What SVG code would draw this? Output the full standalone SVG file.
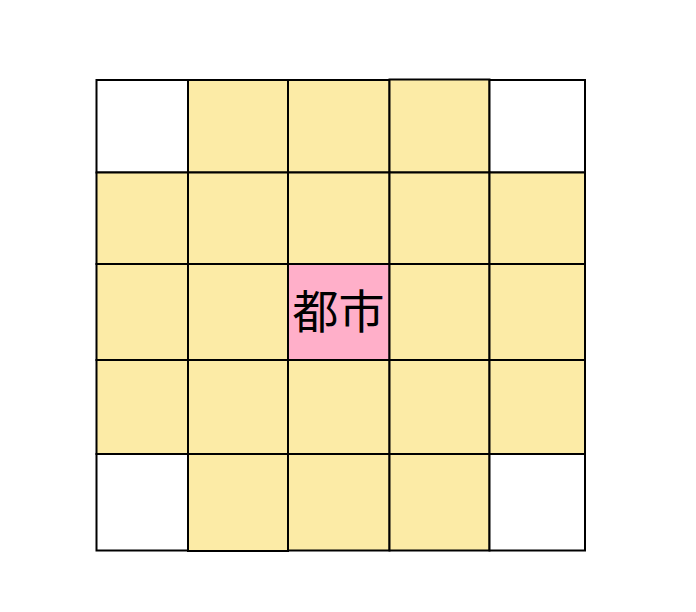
<svg xmlns="http://www.w3.org/2000/svg" width="696" height="612" viewBox="0 0 696 612">
<style>
rect{stroke:#000;stroke-width:2}
.w{fill:#fff}
.y{fill:#fcebA6}
.p{fill:#ffafc9}
text{font-family:"Noto Sans CJK JP","Noto Sans CJK SC",sans-serif;font-size:46px;fill:#000;text-anchor:middle}
</style>
<rect width="696" height="612" fill="#fff" style="stroke:none"/>
<g id="r0c0"><rect class="w" x="96.5" y="80" width="91.5" height="92.5"/></g>
<g id="r0c1"><rect class="y" x="188" y="80" width="100" height="92.5"/></g>
<g id="r0c2"><rect class="y" x="288" y="80" width="101.5" height="92.5"/></g>
<g id="r0c3"><rect class="y" x="389.5" y="79.5" width="100" height="93"/></g>
<g id="r0c4"><rect class="w" x="489.5" y="80" width="95.5" height="92.5"/></g>
<g id="r1c0"><rect class="y" x="96.5" y="172.5" width="91.5" height="91.5"/></g>
<g id="r1c1"><rect class="y" x="188" y="172.5" width="100" height="91.5"/></g>
<g id="r1c2"><rect class="y" x="288" y="172.5" width="101.5" height="91.5"/></g>
<g id="r1c3"><rect class="y" x="389.5" y="172.5" width="100" height="91.5"/></g>
<g id="r1c4"><rect class="y" x="489.5" y="172.5" width="95.5" height="91.5"/></g>
<g id="r2c0"><rect class="y" x="96.5" y="264" width="91.5" height="96"/></g>
<g id="r2c1"><rect class="y" x="188" y="264" width="100" height="96"/></g>
<g id="r2c2"><rect class="p" x="288" y="264" width="101.5" height="96"/><text x="338.5" y="328">都市</text></g>
<g id="r2c3"><rect class="y" x="389.5" y="264" width="100" height="96"/></g>
<g id="r2c4"><rect class="y" x="489.5" y="264" width="95.5" height="96"/></g>
<g id="r3c0"><rect class="y" x="96.5" y="360" width="91.5" height="94"/></g>
<g id="r3c1"><rect class="y" x="188" y="360" width="100" height="94"/></g>
<g id="r3c2"><rect class="y" x="288" y="360" width="101.5" height="94"/></g>
<g id="r3c3"><rect class="y" x="389.5" y="360" width="100" height="94"/></g>
<g id="r3c4"><rect class="y" x="489.5" y="360" width="95.5" height="94"/></g>
<g id="r4c0"><rect class="w" x="96.5" y="454" width="91.5" height="96.5"/></g>
<g id="r4c1"><rect class="y" x="188" y="454" width="100" height="97"/></g>
<g id="r4c2"><rect class="y" x="288" y="454" width="101.5" height="96.5"/></g>
<g id="r4c3"><rect class="y" x="389.5" y="454" width="100" height="96.5"/></g>
<g id="r4c4"><rect class="w" x="489.5" y="454" width="95.5" height="96.5"/></g>
</svg>
